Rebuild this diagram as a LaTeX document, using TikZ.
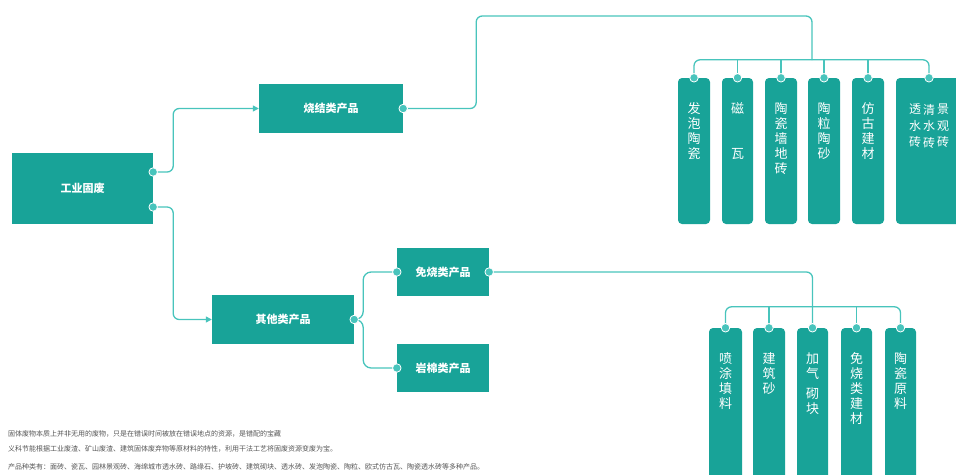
\documentclass[tikz,border=0pt]{standalone}
\usepackage{fontspec}
\setmainfont{Noto Sans CJK SC}
\usetikzlibrary{arrows.meta}
\definecolor{boxc}{RGB}{24,163,152}
\definecolor{linec}{RGB}{72,196,188}
\definecolor{txtc}{RGB}{85,85,85}
\begin{document}
\begin{tikzpicture}[x=1pt,y=-1pt,
 mainbox/.style={fill=boxc,text=white,inner sep=0,font=\bfseries\fontsize{11}{13}\selectfont},
 tagbox/.style={fill=boxc,rounded corners=4pt,inner sep=0},
 vlab/.style={text=white,inner sep=0,align=center,anchor=north,font=\fontsize{13}{15}\selectfont},
 vlabs/.style={text=white,inner sep=0,align=center,anchor=north,font=\fontsize{12}{16.5}\selectfont},
 conn/.style={draw=linec,line width=1.3pt,rounded corners=6pt},
 arr/.style={-{Triangle[length=6pt,width=6pt]}},
 dot/.style={circle,fill=linec,draw=white,line width=0.8pt,minimum size=8.5pt,inner sep=0},
 note/.style={text=txtc,anchor=west,inner sep=0,font=\fontsize{7}{8}\selectfont}]
\useasboundingbox (0,0) rectangle (956,474);
\clip (0,0) rectangle (956,474);
% main boxes
\node[mainbox,minimum width=141pt,minimum height=71pt] (g) at (82.5,188.5) {工业固废};
\node[mainbox,minimum width=144pt,minimum height=49pt] (s) at (331,108.5) {烧结类产品};
\node[mainbox,minimum width=142pt,minimum height=49pt] (o) at (283,319.5) {其他类产品};
\node[mainbox,minimum width=92pt,minimum height=48pt] (m) at (443,272) {免烧类产品};
\node[mainbox,minimum width=92pt,minimum height=48pt] (r) at (443,368) {岩棉类产品};
% top tags
\node[tagbox,minimum width=32pt,minimum height=146pt] (t1) at (694,151) {};
\node[tagbox,minimum width=31pt,minimum height=146pt] (t2) at (737.5,151) {};
\node[tagbox,minimum width=32pt,minimum height=146pt] (t3) at (781,151) {};
\node[tagbox,minimum width=32pt,minimum height=146pt] (t4) at (824,151) {};
\node[tagbox,minimum width=32pt,minimum height=146pt] (t5) at (868,151) {};
\node[tagbox,minimum width=66pt,minimum height=146pt] (t6) at (929,151) {};
\node[vlab] (l1) at ([yshift=-25pt]t1.north) {发\\泡\\陶\\瓷};
\node[vlab] (l2) at ([yshift=-25pt]t2.north) {磁\\ \\ \\瓦};
\node[vlab] (l3) at ([yshift=-25pt]t3.north) {陶\\瓷\\墙\\地\\砖};
\node[vlab] (l4) at ([yshift=-25pt]t4.north) {陶\\粒\\陶\\砂};
\node[vlab] (l5) at ([yshift=-25pt]t5.north) {仿\\古\\建\\材};
\node[vlabs] (l6a) at ([xshift=-14pt,yshift=-26pt]t6.north) {透\\水\\砖};
\node[vlabs] (l6b) at ([xshift=0pt,yshift=-26pt]t6.north) {清\\水\\砖};
\node[vlabs] (l6c) at ([xshift=14pt,yshift=-26pt]t6.north) {景\\观\\砖};
% bottom tags
\node[tagbox,minimum width=33pt,minimum height=154pt] (b1) at (725.5,405) {};
\node[tagbox,minimum width=32pt,minimum height=154pt] (b2) at (769,405) {};
\node[tagbox,minimum width=31pt,minimum height=154pt] (b3) at (812.5,405) {};
\node[tagbox,minimum width=31pt,minimum height=154pt] (b4) at (856.5,405) {};
\node[tagbox,minimum width=31pt,minimum height=154pt] (b5) at (900.5,405) {};
\node[vlab] (k1) at ([yshift=-25pt]b1.north) {喷\\涂\\填\\料};
\node[vlab] (k2) at ([yshift=-25pt]b2.north) {建\\筑\\砂};
\node[vlab] (k3) at ([yshift=-25pt]b3.north) {加\\气\\[5pt]砌\\块};
\node[vlab] (k4) at ([yshift=-25pt]b4.north) {免\\烧\\类\\建\\材};
\node[vlab] (k5) at ([yshift=-25pt]b5.north) {陶\\瓷\\原\\料};
% connectors
\coordinate (g1) at ([yshift=16.5pt]g.east);
\coordinate (g2) at ([yshift=-18.5pt]g.east);
\draw[conn,arr] (g1) -- ++(20,0) |- (s.west);
\draw[conn,arr] (g2) -- ++(20,0) |- (o.west);
\coordinate (tb) at (812,60);
\draw[conn] (s.east) -- ++(73,0) |- (812,16) -- (tb);
\draw[conn] (t1.north) -- ++(0,-18) -| (t6.north);
\foreach \t in {t2,t3,t4,t5} \draw[conn] (\t.north) -- ++(0,-18);
\draw[conn,rounded corners=8pt] (o.east) -- ++(9,0) |- (m.west);
\draw[conn,rounded corners=8pt] (o.east) -- ++(9,0) |- (r.west);
\draw[conn] (m.east) -| (b3.north);
\draw[conn] (b1.north) -- ++(0,-21) -| (b5.north);
\foreach \b in {b2,b4} \draw[conn] (\b.north) -- ++(0,-21);
% dots
\foreach \p in {g1,g2,s.east,o.east,m.west,r.west,m.east,t1.north,t2.north,t3.north,t4.north,t5.north,t6.north,b1.north,b2.north,b3.north,b4.north,b5.north}
  \node[dot] at (\p) {};
% notes
\node[note] (n1) at (8,434) {固体废物本质上并非无用的废物，只是在错误时间被放在错误地点的资源，是错配的宝藏};
\node[note] (n2) at (8,449) {义科节能根据工业废渣、矿山废渣、建筑固体废弃物等原材料的特性，利用干法工艺将固废资源变废为宝。};
\node[note] (n3) at (8,467) {产品种类有：面砖、瓷瓦、园林景观砖、海绵城市透水砖、路缘石、护坡砖、建筑砌块、透水砖、发泡陶瓷、陶粒、欧式仿古瓦、陶瓷透水砖等多种产品。};
\end{tikzpicture}
\end{document}
